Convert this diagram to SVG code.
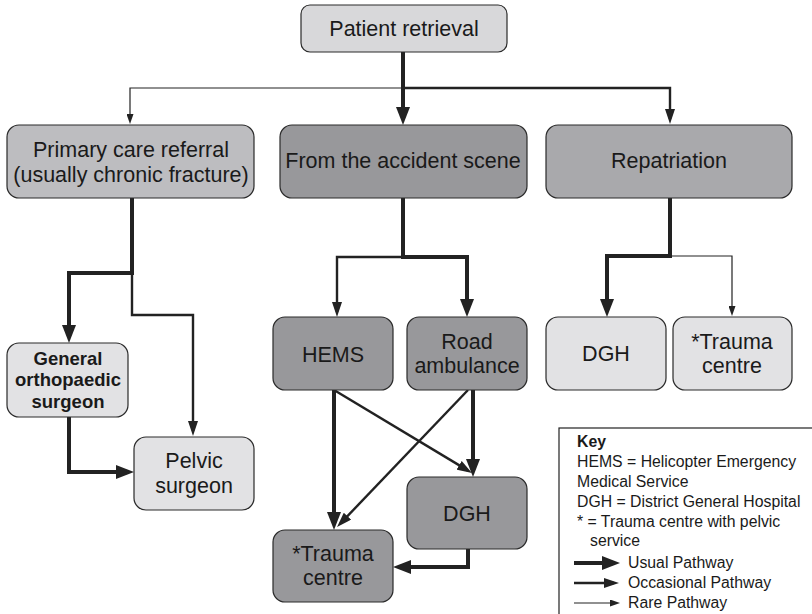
<svg xmlns="http://www.w3.org/2000/svg" width="812" height="614" viewBox="0 0 812 614">
  <style>
    .box { stroke: #2a2a2a; stroke-width: 1.2; }
    .light { fill: #e2e2e4; }
    .pale { fill: #d8d8da; }
    .mid { fill: #bdbdc0; }
    .rep { fill: #a9a9ac; }
    .dark { fill: #98989b; }
    text { font-family: "Liberation Sans", Arial, sans-serif; fill: #1a1a1a; text-anchor: middle; }
    .lbl { font-size: 21.5px; }
    .bold { font-size: 18.5px; font-weight: bold; }
    .key { font-size: 15.8px; text-anchor: start; }
    .c { fill: none; stroke: #222; stroke-linejoin: miter; }
    .usual { stroke-width: 4; }
    .occ { stroke-width: 2.4; }
    .rare { stroke-width: 1.2; }
  </style>
  <defs>
    <marker id="hUsual" markerUnits="userSpaceOnUse" viewBox="0 0 18 14" markerWidth="18" markerHeight="14" refX="12" refY="7" orient="auto">
      <path d="M0,0 L18,7 L0,14 Z" fill="#222"/>
    </marker>
    <marker id="hOcc" markerUnits="userSpaceOnUse" viewBox="0 0 15 10" markerWidth="15" markerHeight="10" refX="10" refY="5" orient="auto">
      <path d="M0,0 L15,5 L0,10 Z" fill="#222"/>
    </marker>
    <marker id="hRare" markerUnits="userSpaceOnUse" viewBox="0 0 10 7" markerWidth="10" markerHeight="7" refX="7" refY="3.5" orient="auto">
      <path d="M0,0 L10,3.5 L0,7 Z" fill="#222"/>
    </marker>
  </defs>

  <!-- connectors -->
  <g id="connectors">
    <path class="c rare" d="M403,88 H130 V121" marker-end="url(#hRare)"/>
    <path class="c occ" d="M403,88 H670 V119" marker-end="url(#hOcc)"/>
    <path class="c usual" d="M403,52 V119" marker-end="url(#hUsual)"/>

    <path class="c occ" d="M132,273 V315 H193 V431" marker-end="url(#hOcc)"/>
    <path class="c usual" d="M132,198 V273 H69 V337" marker-end="url(#hUsual)"/>
    <path class="c usual" d="M69,417 V472 H128" marker-end="url(#hUsual)"/>

    <path class="c occ" d="M403,257 H337 V312" marker-end="url(#hOcc)"/>
    <path class="c usual" d="M403,198 V257 H467 V311" marker-end="url(#hUsual)"/>

    <path class="c usual" d="M334,390 V524" marker-end="url(#hUsual)"/>
    <path class="c usual" d="M473,390 V471" marker-end="url(#hUsual)"/>
    <path class="c occ" d="M334,390 L467.7,470.4" marker-end="url(#hOcc)"/>
    <path class="c occ" d="M468,390 L340.5,523.4" marker-end="url(#hOcc)"/>
    <path class="c usual" d="M468,549 V567 H399" marker-end="url(#hUsual)"/>

    <path class="c rare" d="M670,256 H732 V313" marker-end="url(#hRare)"/>
    <path class="c usual" d="M670,198 V256 H607 V311" marker-end="url(#hUsual)"/>
  </g>

  <!-- nodes -->
  <g id="patient-retrieval">
    <rect class="box pale" x="301" y="5" width="206" height="47" rx="9"/>
    <text class="lbl" x="404" y="36">Patient retrieval</text>
  </g>
  <g id="primary-care">
    <rect class="box mid" x="7" y="125" width="247" height="73" rx="12"/>
    <text class="lbl" x="131" y="157">Primary care referral</text>
    <text class="lbl" x="131" y="182">(usually chronic fracture)</text>
  </g>
  <g id="accident-scene">
    <rect class="box dark" x="280" y="125" width="247" height="73" rx="12"/>
    <text class="lbl" x="403" y="168">From the accident scene</text>
  </g>
  <g id="repatriation">
    <rect class="box rep" x="546" y="125" width="246" height="73" rx="12"/>
    <text class="lbl" x="669" y="168">Repatriation</text>
  </g>
  <g id="general-orthopaedic">
    <rect class="box light" x="7" y="343" width="121" height="74" rx="12"/>
    <text class="bold" x="68" y="365">General</text>
    <text class="bold" x="68" y="386">orthopaedic</text>
    <text class="bold" x="68" y="408">surgeon</text>
  </g>
  <g id="pelvic-surgeon">
    <rect class="box light" x="134" y="437" width="120" height="73" rx="12"/>
    <text class="lbl" x="194" y="468">Pelvic</text>
    <text class="lbl" x="194" y="493">surgeon</text>
  </g>
  <g id="hems">
    <rect class="box dark" x="273" y="317" width="120" height="73" rx="12"/>
    <text class="lbl" x="333" y="362">HEMS</text>
  </g>
  <g id="road-ambulance">
    <rect class="box dark" x="407" y="317" width="120" height="73" rx="12"/>
    <text class="lbl" x="467" y="349">Road</text>
    <text class="lbl" x="467" y="373">ambulance</text>
  </g>
  <g id="dgh-scene">
    <rect class="box dark" x="407" y="477" width="120" height="72" rx="12"/>
    <text class="lbl" x="467" y="521">DGH</text>
  </g>
  <g id="trauma-scene">
    <rect class="box dark" x="273" y="530" width="120" height="72" rx="12"/>
    <text class="lbl" x="333" y="561">*Trauma</text>
    <text class="lbl" x="333" y="585">centre</text>
  </g>
  <g id="dgh-repatriation">
    <rect class="box light" x="546" y="317" width="120" height="73" rx="12"/>
    <text class="lbl" x="606" y="361">DGH</text>
  </g>
  <g id="trauma-repatriation">
    <rect class="box light" x="673" y="317" width="119" height="73" rx="12"/>
    <text class="lbl" x="732" y="349">*Trauma</text>
    <text class="lbl" x="732" y="373">centre</text>
  </g>

  <!-- key -->
  <g id="key">
    <rect x="559" y="428" width="300" height="300" fill="#fff" stroke="#222" stroke-width="1.2"/>
    <text class="key" x="577" y="447" font-weight="bold">Key</text>
    <text class="key" x="577" y="467">HEMS = Helicopter Emergency</text>
    <text class="key" x="577" y="487">Medical Service</text>
    <text class="key" x="577" y="507">DGH = District General Hospital</text>
    <text class="key" x="577" y="527">* = Trauma centre with pelvic</text>
    <text class="key" x="590" y="546">service</text>
    <path class="c usual" d="M574,563 H614" marker-end="url(#hUsual)"/>
    <path class="c occ" d="M574,583 H614" marker-end="url(#hOcc)"/>
    <path class="c rare" d="M574,603 H617" marker-end="url(#hRare)"/>
    <text class="key" x="628" y="568">Usual Pathway</text>
    <text class="key" x="628" y="588">Occasional Pathway</text>
    <text class="key" x="628" y="608">Rare Pathway</text>
  </g>
</svg>
